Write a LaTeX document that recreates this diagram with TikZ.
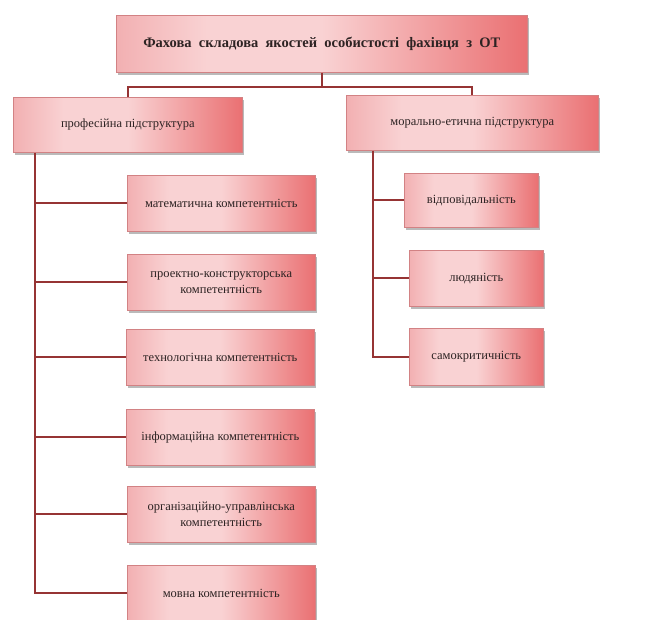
\documentclass[tikz,border=0pt]{standalone}
\usepackage{fontspec}
\setmainfont{Liberation Serif}
\usetikzlibrary{shadows,calc}
\definecolor{shA}{RGB}{242,176,178}
\definecolor{shB}{RGB}{249,210,211}
\definecolor{shC}{RGB}{234,112,114}
\definecolor{bord}{RGB}{210,130,132}
\definecolor{conn}{RGB}{150,52,52}
\definecolor{txt}{RGB}{45,35,35}
\pgfdeclarehorizontalshading{boxshade}{100bp}{color(0bp)=(shA); color(25bp)=(shA); color(36bp)=(shB); color(50bp)=(shB); color(75bp)=(shC); color(100bp)=(shC)}
\tikzset{
  box/.style={draw=bord, line width=0.6pt, shading=boxshade, anchor=north west, align=center,
    inner sep=2pt, text=txt, font=\fontsize{12.5}{16}\selectfont,
    drop shadow={shadow xshift=2pt, shadow yshift=-2.5pt, fill=black!45, opacity=0.6}},
  conline/.style={draw=conn, line width=1.9pt, line join=miter}
}
\begin{document}
\begin{tikzpicture}[x=1pt,y=-1pt]
\useasboundingbox (0,0) rectangle (646,620);
\node[box, minimum width=411pt, minimum height=57pt, font=\bfseries\fontsize{14.5}{16}\selectfont] (top) at (116,15) {Фахова\ \ складова\ \ якостей\ \ особистості\ \ фахівця\ \ з\ \ ОТ};
\node[box, minimum width=229pt, minimum height=55pt] (prof) at (13,97) {професійна підструктура};
\node[box, minimum width=252pt, minimum height=55pt] (moral) at (346,95) {морально-етична підструктура};

\node[box, minimum width=188pt, minimum height=56pt] (math) at (127,175) {математична компетентність};
\node[box, minimum width=188pt, minimum height=56pt] (proj) at (127,254) {проектно-конструкторська\\компетентність};
\node[box, minimum width=188pt, minimum height=56pt] (tech) at (126,329) {технологічна компетентність};
\node[box, minimum width=188pt, minimum height=56pt] (info) at (126,409) {інформаційна компетентність};
\node[box, minimum width=188pt, minimum height=56pt] (org) at (127,486) {організаційно-управлінська\\компетентність};
\node[box, minimum width=188pt, minimum height=56pt] (mova) at (127,565) {мовна компетентність};

\node[box, minimum width=134pt, minimum height=54pt] (vidp) at (404,173) {відповідальність};
\node[box, minimum width=134pt, minimum height=56pt] (lud) at (409,250) {людяність};
\node[box, minimum width=134pt, minimum height=57pt] (samo) at (409,328) {самокритичність};

\coordinate (j) at ($(top.south)+(0,14)$);
\draw[conline] (top.south) -- (j) -| (prof.north);
\draw[conline] (j) -| (moral.north);

\coordinate (tL) at ($(prof.south west)+(22,0)$);
\draw[conline] (tL) |- (mova.west);
\foreach \n in {math,proj,tech,info,org}
  \draw[conline] (tL |- \n.west) -- (\n.west);

\coordinate (tR) at ($(moral.south west)+(27,0)$);
\draw[conline] (tR) |- (samo.west);
\foreach \n in {vidp,lud}
  \draw[conline] (tR |- \n.west) -- (\n.west);
\end{tikzpicture}
\end{document}
